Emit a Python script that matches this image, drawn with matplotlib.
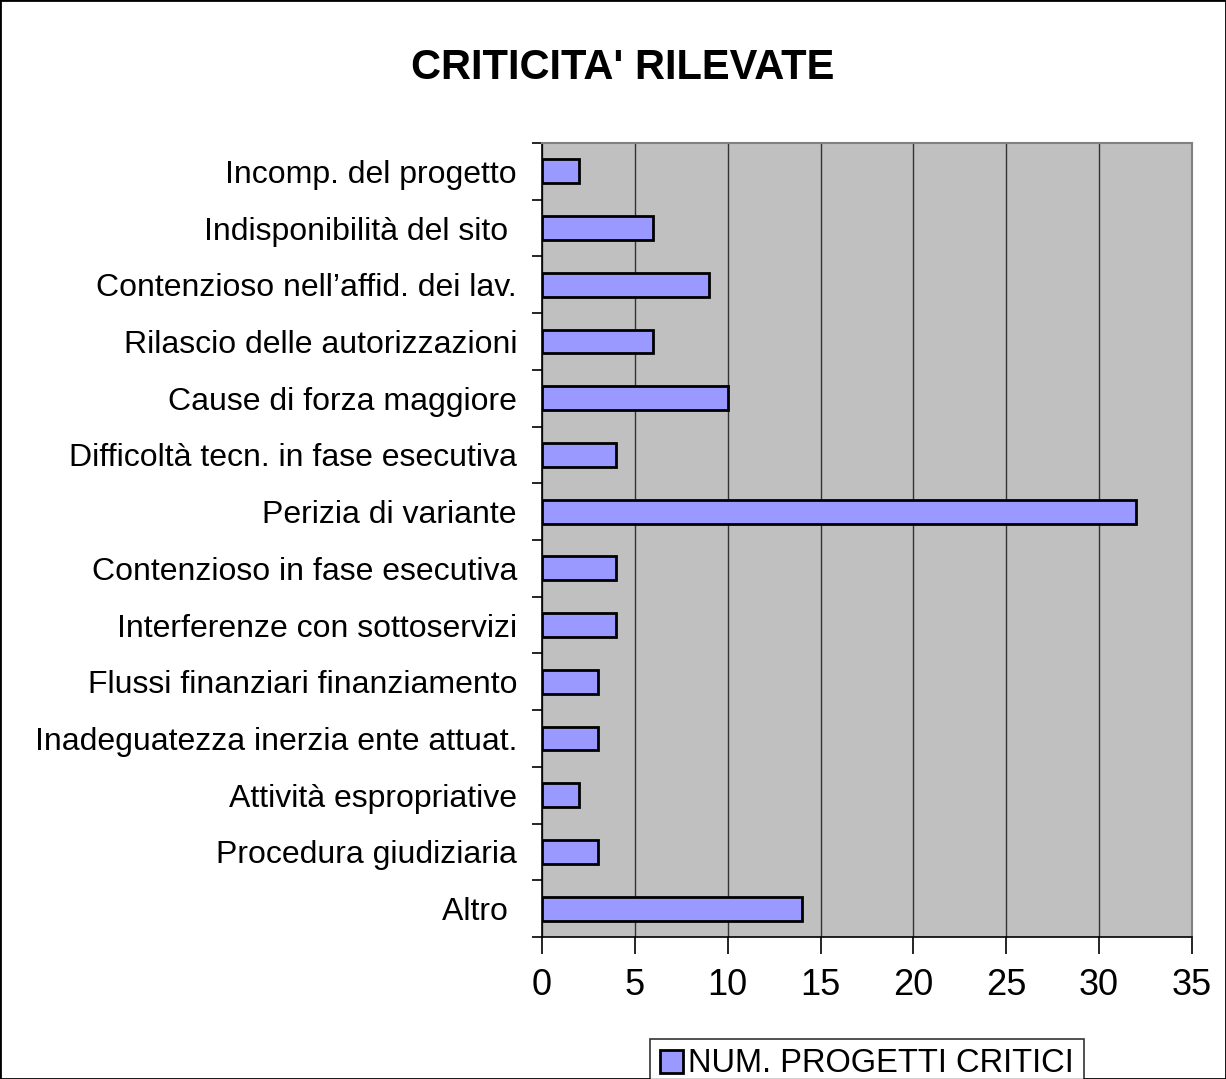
import numpy as np
from matplotlib import pyplot as plt
from matplotlib.patches import Rectangle

plt.rcParams['font.family'] = ['Liberation Sans', 'DejaVu Sans']

categories = ["Incomp. del progetto", "Indisponibilità del sito ",
              "Contenzioso nell\u2019affid. dei lav.", "Rilascio delle autorizzazioni",
              "Cause di forza maggiore", "Difficoltà tecn. in fase esecutiva",
              "Perizia di variante", "Contenzioso in fase esecutiva",
              "Interferenze con sottoservizi", "Flussi finanziari finanziamento",
              "Inadeguatezza inerzia ente attuat.", "Attività espropriative",
              "Procedura giudiziaria", "Altro "]
values = [2, 6, 9, 6, 10, 4, 32, 4, 4, 3, 3, 2, 3, 14]
xticks = [0, 5, 10, 15, 20, 25, 30, 35]

fig = plt.figure(figsize=(12.26, 10.79), dpi=100)
ax = fig.add_axes([542/1226, 1-937/1079, 650/1226, 794/1079])

n = len(categories)
y = np.arange(n)
ax.barh(y, values, height=0.42, color='#9999FF', edgecolor='black', linewidth=2,
        label='NUM. PROGETTI CRITICI', zorder=3)
ax.set_ylim(n - 0.5, -0.5)
ax.set_xlim(0, 35)
ax.set_facecolor('#C0C0C0')
ax.set_xticks(xticks)
ax.xaxis.grid(True, color='#333333', linewidth=1, zorder=1)
ax.set_axisbelow(True)

# category labels at centres, ticks at boundaries
ax.set_yticks(y)
ax.set_yticklabels(categories, fontsize=23)
ax.tick_params(axis='y', which='major', length=0, pad=18)
ax.set_yticks(np.arange(-0.5, n, 1), minor=True)
ax.tick_params(axis='y', which='minor', length=7, width=1.2, direction='out')
ax.tick_params(axis='x', length=12, width=1.2, direction='out', labelsize=26, pad=10)

for s in ['left', 'bottom']:
    ax.spines[s].set_color('black')
    ax.spines[s].set_linewidth(1.2)
for s in ['top', 'right']:
    ax.spines[s].set_color('#808080')
    ax.spines[s].set_linewidth(1.5)

fig.text(623/1226, 1-68/1079, "CRITICITA' RILEVATE", fontsize=30, fontweight='bold',
         ha='center', va='center')

leg = fig.legend(loc='center', bbox_to_anchor=(867/1226, 1-1064/1079), fontsize=23.5,
                 frameon=True, fancybox=False, edgecolor='black', handlelength=0.7,
                 handleheight=0.7, handletextpad=0.15, borderpad=0.3)
leg.get_frame().set_linewidth(1.2)

fig.patches.append(Rectangle((0, 0), 1, 1, transform=fig.transFigure, fill=False,
                             edgecolor='black', linewidth=2))

plt.savefig('out.png', dpi=100)
